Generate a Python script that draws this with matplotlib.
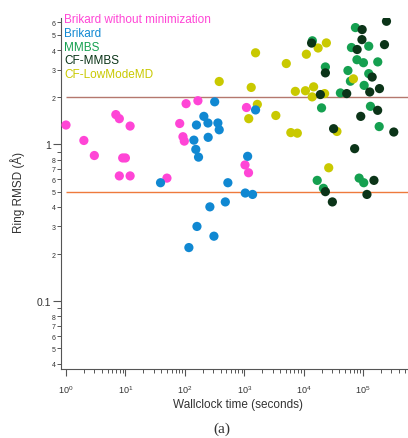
import matplotlib
matplotlib.use('Agg')
import matplotlib.pyplot as plt
from matplotlib.ticker import FixedLocator, FixedFormatter, NullFormatter

plt.rcParams['font.family'] = ['Liberation Sans', 'DejaVu Sans']
plt.rcParams['mathtext.fontset'] = 'custom'
plt.rcParams['mathtext.rm'] = 'Liberation Sans'
plt.rcParams['mathtext.it'] = 'Liberation Sans:italic'

# data (wallclock seconds, ring RMSD in angstrom)
pink_x = [1.0, 2.0, 3.0, 6.9, 7.9, 12, 9.0, 10, 7.9, 12, 50, 82, 93, 98, 105, 166, 1090, 1030, 1180]
pink_y = [1.33, 1.06, 0.85, 1.55, 1.46, 1.31, 0.82, 0.82, 0.63, 0.63, 0.61, 1.36, 1.12, 1.05, 1.82, 1.90, 1.72, 0.74, 0.66]

blue_x = [318, 209, 245, 157, 360, 379, 142, 247, 153, 170, 1550, 1140, 39, 530, 1040, 1380, 480, 264, 160, 309, 117]
blue_y = [1.87, 1.51, 1.37, 1.33, 1.37, 1.24, 1.065, 1.11, 0.93, 0.83, 1.66, 0.84, 0.57, 0.57, 0.49, 0.48, 0.43, 0.40, 0.30, 0.26, 0.22]

green_x = [74300, 63700, 124500, 78800, 101400, 176600, 55600, 124500, 61200, 104200, 23200, 14000, 41500, 20000, 133000, 186600, 16900, 85800, 102600, 21500]
green_y = [5.56, 4.15, 4.23, 3.47, 3.32, 3.36, 2.96, 2.83, 2.53, 2.38, 3.12, 4.58, 2.13, 1.71, 1.75, 1.30, 0.59, 0.61, 0.57, 0.525]

dark_x = [247600, 96400, 95700, 229100, 13600, 79400, 23200, 142100, 188700, 129400, 53000, 19100, 175800, 91300, 31900, 328600, 72100, 152400, 23200, 116100, 30400]
dark_y = [6.10, 5.40, 4.66, 4.33, 4.43, 4.03, 2.86, 2.69, 2.27, 2.16, 2.11, 2.08, 1.65, 1.51, 1.26, 1.20, 0.94, 0.59, 0.50, 0.48, 0.43]

yellow_x = [1550, 379, 1310, 1660, 1190, 3400, 5100, 11100, 17500, 24100, 7240, 10700, 14700, 13900, 22500, 6080, 7820, 36300, 26400, 68800]
yellow_y = [3.84, 2.52, 2.31, 1.80, 1.46, 1.53, 3.28, 3.76, 4.12, 4.44, 2.18, 2.20, 2.33, 2.01, 2.11, 1.19, 1.18, 1.21, 0.71, 2.62]

names = ['Brikard without minimization', 'Brikard', 'MMBS', 'CF-MMBS', 'CF-LowModeMD']
colors = ['#ff45d6', '#1088d2', '#15a050', '#0b3418', '#c9c900']
thresholds = [2.0, 0.5]
threshold_colors = ['#b4786e', '#ee7a3c']

fig = plt.figure(figsize=(4.08, 4.39), dpi=100)
ax = fig.add_axes([0.1495, 0.1572, 0.8505, 0.7995])

# drawing order: green, yellow, dark, pink, blue
series = [(green_x, green_y, colors[2], 1), (yellow_x, yellow_y, colors[4], 2),
          (dark_x, dark_y, colors[3], 3), (pink_x, pink_y, colors[0], 4),
          (blue_x, blue_y, colors[1], 5)]
for xs, ys, c, z in series:
    ax.scatter(xs, ys, s=44, color=c, edgecolors='none', zorder=z)

for yv, c in zip(thresholds, threshold_colors):
    ax.hlines(yv, 1, 5.7e5, color=c, lw=1.0, zorder=0)

ax.set_xscale('log')
ax.set_yscale('log')
ax.set_xlim(0.824, 5.7e5)
ax.set_ylim(0.037, 6.4)

for s in ['top', 'right']:
    ax.spines[s].set_visible(False)
for s in ['left', 'bottom']:
    ax.spines[s].set_color('#555555')
    ax.spines[s].set_linewidth(0.8)

# y ticks: 0.1 and 1 labelled big, minor digits small
ax.yaxis.set_major_locator(FixedLocator([0.1, 1]))
ax.yaxis.set_major_formatter(FixedFormatter(['0.1', '1']))
ymin = [0.04, 0.05, 0.06, 0.07, 0.08, 0.09, 0.2, 0.3, 0.4, 0.5, 0.6, 0.7, 0.8, 0.9, 2, 3, 4, 5, 6]
ymin_lab = ['4', '5', '6', '7', '8', '', '2', '3', '4', '5', '6', '7', '8', '', '2', '3', '4', '5', '6']
ax.yaxis.set_minor_locator(FixedLocator(ymin))
ax.yaxis.set_minor_formatter(FixedFormatter(ymin_lab))
ax.tick_params(axis='y', which='major', length=6, width=0.8, labelsize=7.5, pad=1, color='#555555', labelcolor='#333333')
ax.tick_params(axis='y', which='minor', length=3, width=0.7, labelsize=5, pad=1, color='#555555', labelcolor='#333333')

# x ticks: decades with superscripts
xmaj = [1, 10, 100, 1e3, 1e4, 1e5]
ax.xaxis.set_major_locator(FixedLocator(xmaj))
ax.xaxis.set_major_formatter(FixedFormatter([r'$10^{%d}$' % i for i in range(6)]))
xmin = [m * 10 ** d for d in range(6) for m in range(2, 10) if m * 10 ** d < 5.7e5]
ax.xaxis.set_minor_locator(FixedLocator(xmin))
ax.xaxis.set_minor_formatter(NullFormatter())
ax.tick_params(axis='x', which='major', length=5, width=0.8, labelsize=6.5, pad=5, color='#555555', labelcolor='#333333')
ax.tick_params(axis='x', which='minor', length=3, width=0.7, color='#555555')

ax.set_xlabel('Wallclock time (seconds)', fontsize=8.5, color='#333333')
ax.xaxis.set_label_coords(0.509, -0.099)
ax.xaxis.label.set_va('center')
ax.set_ylabel('Ring RMSD (Å)', fontsize=8.5, color='#333333')
ax.yaxis.set_label_coords(-0.125, 0.506)
ax.yaxis.label.set_va('center')

# coloured text legend
ypos = [0.997, 0.958, 0.918, 0.880, 0.841]
for name, c, yy in zip(names, colors, ypos):
    ax.text(0.0086, yy, name, color=c, fontsize=8.5, transform=ax.transAxes,
            ha='left', va='center', clip_on=False)

fig.text(221.5 / 408, 1 - 429 / 439, '(a)', family='Liberation Serif', fontsize=11,
         ha='center', va='center', color='#333333')

plt.savefig('out.png', dpi=100)
